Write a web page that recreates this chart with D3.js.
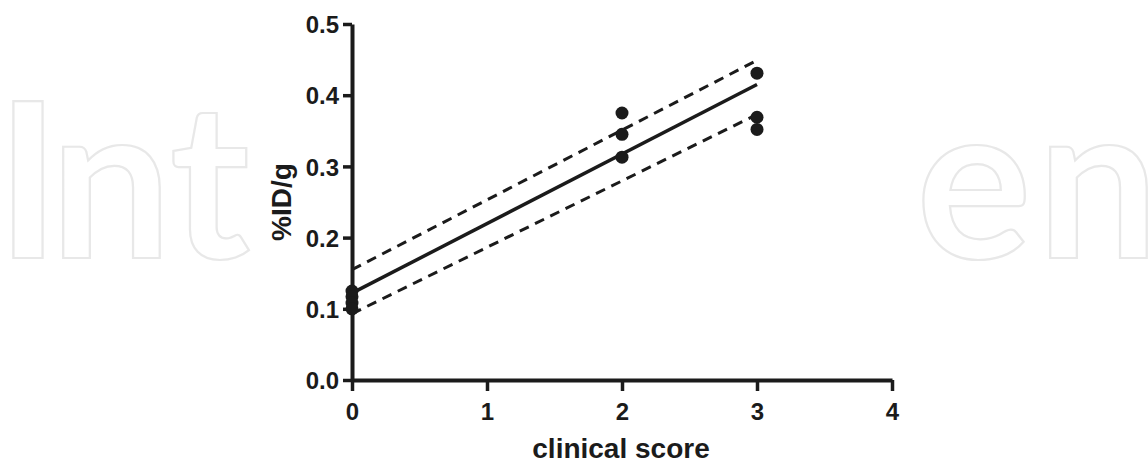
<!DOCTYPE html>
<html>
<head>
<meta charset="utf-8">
<script src="https://cdn.jsdelivr.net/npm/d3@7"></script>
<style>
  body { margin: 0; background: #fff; }
  svg { display: block; font-family: "Liberation Sans", Arial, sans-serif; }
</style>
</head>
<body>
<svg id="chart" width="1148" height="465"></svg>
<script>
// clinical score vs %ID/g, with linear fit and 95% confidence band
const scores = [0, 0, 0, 0, 2, 2, 2, 3, 3, 3];
const uptake = [0.125, 0.117, 0.108, 0.100, 0.375, 0.345, 0.313, 0.431, 0.369, 0.352];

const fitX = [0, 3];
const fitY = [0.122, 0.415];
const upperBand = [0.155, 0.449];
const lowerBand = [0.093, 0.373];

const xTicks = [0, 1, 2, 3, 4];
const yTicks = [0, 0.1, 0.2, 0.3, 0.4, 0.5];

// watermark letters left and right of the plot
const watermark = [
  { ch: "I", x: 28 },
  { ch: "n", x: 111 },
  { ch: "t", x: 210 },
  { ch: "e", x: 974 },
  { ch: "n", x: 1098 }
];

const ink = "#1b1b1b";
const svg = d3.select("#chart");

svg
  .append("g")
  .selectAll("text")
  .data(watermark)
  .enter()
  .append("text")
  .attr("x", (d) => d.x)
  .attr("y", 258)
  .attr("text-anchor", "middle")
  .style("font-family", "Lato, 'Open Sans', sans-serif")
  .style("font-size", "216px")
  .style("font-weight", "bold")
  .attr("fill", "none")
  .attr("stroke", "#e8e8e8")
  .attr("stroke-width", 2.2)
  .text((d) => d.ch);

const xScale = d3.scaleLinear().domain([0, 4]).range([352, 892]);
const yScale = d3.scaleLinear().domain([0, 0.5]).range([380, 24]);

// axes
const xAxis = svg
  .append("g")
  .attr("transform", `translate(0,${yScale(0)})`)
  .call(
    d3.axisBottom(xScale).tickValues(xTicks).tickSize(11).tickSizeOuter(0).tickFormat(d3.format("d"))
  );

const yAxis = svg
  .append("g")
  .attr("transform", `translate(${xScale(0)},0)`)
  .call(
    d3.axisLeft(yScale).tickValues(yTicks).tickSize(9).tickSizeOuter(0).tickFormat(d3.format(".1f"))
  );

[xAxis, yAxis].forEach((ax) => {
  ax.select(".domain").attr("stroke", ink).attr("stroke-width", 4);
  ax.selectAll(".tick line").attr("stroke", ink).attr("stroke-width", 3.5);
  ax.selectAll(".tick text")
    .attr("fill", ink)
    .style("font-size", "24px")
    .style("font-weight", "bold");
});

xAxis.selectAll(".tick text").attr("y", 23);
yAxis.selectAll(".tick text").attr("x", -13).attr("dy", "0.36em");

// axis titles
svg
  .append("text")
  .attr("x", (xScale(0) + xScale(4)) / 2 - 1)
  .attr("y", 458)
  .attr("text-anchor", "middle")
  .attr("fill", ink)
  .style("font-size", "28px")
  .style("font-weight", "bold")
  .text("clinical score");

svg
  .append("text")
  .attr("transform", `translate(291,${yScale(0.25)}) rotate(-90)`)
  .attr("text-anchor", "middle")
  .attr("fill", ink)
  .style("font-size", "28px")
  .style("font-weight", "bold")
  .text("%ID/g");

// fit line and confidence band
const line = d3
  .line()
  .x((d) => xScale(d[0]))
  .y((d) => yScale(d[1]));

svg
  .append("path")
  .attr("d", line(d3.zip(fitX, upperBand)))
  .attr("fill", "none")
  .attr("stroke", ink)
  .attr("stroke-width", 3)
  .attr("stroke-dasharray", "10,7");

svg
  .append("path")
  .attr("d", line(d3.zip(fitX, lowerBand)))
  .attr("fill", "none")
  .attr("stroke", ink)
  .attr("stroke-width", 3)
  .attr("stroke-dasharray", "10,7");

svg
  .append("path")
  .attr("d", line(d3.zip(fitX, fitY)))
  .attr("fill", "none")
  .attr("stroke", ink)
  .attr("stroke-width", 3.5);

// data points
svg
  .append("g")
  .selectAll("circle")
  .data(d3.zip(scores, uptake))
  .enter()
  .append("circle")
  .attr("cx", (d) => xScale(d[0]))
  .attr("cy", (d) => yScale(d[1]))
  .attr("r", 6.5)
  .attr("fill", ink);
</script>
</body>
</html>
